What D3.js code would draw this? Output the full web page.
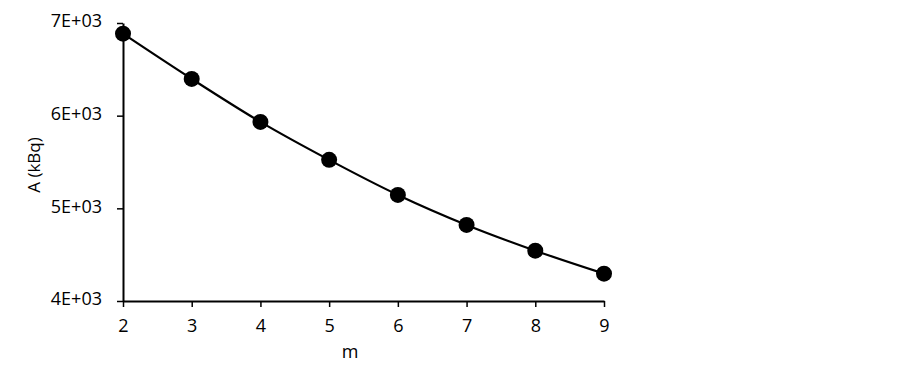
<!DOCTYPE html>
<html>
<head>
<meta charset="utf-8">
<script src="https://cdn.jsdelivr.net/npm/d3@7"></script>
<style>
  body { margin: 0; background: #fff; }
  svg text { font-family: "Open Sans", Lato, sans-serif; fill: #000; }
</style>
</head>
<body>
<div id="chart"></div>
<script>
// values
const mValues = [2, 3, 4, 5, 6, 7, 8, 9];
const activity = [6885, 6397, 5933, 5523, 5145, 4821, 4543, 4295];
const yTicks = [4000, 5000, 6000, 7000];
const xTicks = [2, 3, 4, 5, 6, 7, 8, 9];

const W = 903, H = 366;
const margin = { top: 23, right: 299, bottom: 65, left: 123 };

const svg = d3.select("#chart").append("svg")
  .attr("width", W)
  .attr("height", H);

const g = svg.append("g")
  .attr("transform", "translate(" + margin.left + "," + margin.top + ")");

const innerW = W - margin.left - margin.right;
const innerH = H - margin.top - margin.bottom;

const x = d3.scaleLinear().domain([2, 9]).range([0, innerW]);
const y = d3.scaleLinear().domain([4000, 7000]).range([innerH, 0]);

// axes
const yAxis = g.append("g")
  .call(d3.axisLeft(y).tickValues(yTicks).tickSize(6).tickSizeOuter(0)
    .tickFormat(d => (d / 1000) + "E+03"));
const xAxis = g.append("g")
  .attr("transform", "translate(0," + innerH + ")")
  .call(d3.axisBottom(x).tickValues(xTicks).tickSize(6).tickSizeOuter(0)
    .tickFormat(d3.format("d")));

[xAxis, yAxis].forEach(a => {
  a.attr("font-size", 18).attr("font-family", null);
  a.select(".domain").attr("stroke", "#000").attr("stroke-width", 2);
  a.selectAll(".tick line").attr("stroke", "#000").attr("stroke-width", 1.5);
  a.selectAll(".tick text").attr("fill", "#000");
});
yAxis.selectAll(".tick text").attr("x", -21).attr("y", -2);
xAxis.selectAll(".tick text").attr("y", 18);

// curve
const line = d3.line()
  .x((d, i) => x(mValues[i]))
  .y(d => y(d))
  .curve(d3.curveCatmullRom);

g.append("path")
  .datum(activity)
  .attr("fill", "none")
  .attr("stroke", "#000")
  .attr("stroke-width", 2.2)
  .attr("d", line);

g.selectAll("circle.pt")
  .data(activity)
  .enter().append("circle")
  .attr("class", "pt")
  .attr("cx", (d, i) => x(mValues[i]))
  .attr("cy", d => y(d))
  .attr("r", 8)
  .attr("fill", "#000");

// axis titles
svg.append("text")
  .attr("x", 350)
  .attr("y", 358)
  .attr("text-anchor", "middle")
  .attr("font-size", 18)
  .text("m");

svg.append("text")
  .attr("transform", "translate(40,165) rotate(-90)")
  .attr("text-anchor", "middle")
  .attr("font-size", 17)
  .text("A (kBq)");
</script>
</body>
</html>
